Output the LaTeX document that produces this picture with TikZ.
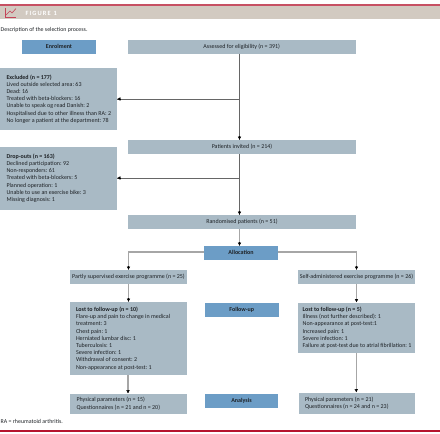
\documentclass[tikz,border=0pt]{standalone}
\usepackage{fontspec}
\setmainfont{Carlito}
\usetikzlibrary{arrows.meta,calc}
\definecolor{boxgrey}{HTML}{A9BAC5}
\definecolor{boxblue}{HTML}{6C9DC6}
\definecolor{bandtan}{HTML}{D2CAC1}
\definecolor{darkred}{HTML}{B5152F}
\definecolor{ink}{HTML}{1E2226}
\tikzset{
 x=1pt,y=-1pt,
 txt/.style={font=\fontsize{6}{7.2}\selectfont\frenchspacing,text=ink},
 greybox/.style={fill=boxgrey,draw=none,inner sep=0pt,txt,align=center},
 bluebox/.style={fill=boxblue,draw=none,inner sep=0pt,font=\fontsize{6}{7.2}\selectfont\bfseries,text=ink,align=center},
 blocktext/.style={anchor=west,inner sep=0pt,txt,align=left},
 thinline/.style={draw=black!60,line width=0.7pt},
 thickline/.style={draw=black!35,line width=1.5pt},
 tipmark/.style={draw=black,line width=0.3pt,-{Latex[length=3.2pt,width=3.6pt]}},
}
% name, x1, y1, x2, y2, style, text
\newcommand{\boxat}[7]{%
 \pgfmathsetmacro{\bw}{#4-#2}\pgfmathsetmacro{\bh}{#5-#3}%
 \pgfmathsetmacro{\bcx}{(#2+#4)/2}\pgfmathsetmacro{\bcy}{(#3+#5)/2}%
 \node[#6,minimum width=\bw pt,minimum height=\bh pt] (#1) at (\bcx,\bcy) {#7};}
% box name, left pad, text: left-aligned block inside a box
\newcommand{\blockin}[3]{\node[blocktext] (#1-text) at ([xshift=#2pt]#1.west) {#3};}
% black tips, drawn apart from the grey lines that end at them
\newcommand{\tipdown}[1]{\draw[tipmark] ([yshift=3.4pt]#1) -- (#1);}
\newcommand{\tipleft}[1]{\draw[tipmark] ([xshift=3.4pt]#1) -- (#1);}
\begin{document}
\begin{tikzpicture}
\useasboundingbox (0,0) rectangle (440,434);
\fill[bandtan] (0,6.2) rectangle (440,19);
\fill[darkred!75] (0,4) rectangle (440,5.5);
\fill[darkred] (0,429.5) rectangle (440,431.5);
% icon
\draw[darkred!80,line width=0.6pt] (5.5,8) -- (5.5,17.5) -- (16,17.5);
\draw[darkred!80,line width=0.6pt] (6,15) -- (10,11) -- (12,13) -- (16,8.5);
\node[anchor=west,inner sep=0pt,font=\fontsize{6.4}{7}\selectfont\bfseries,text=white] (fig) at (25.5,13) {F\,I\,G\,U\,R\,E\ \ 1};
\node[anchor=west,inner sep=0pt,txt,font=\fontsize{5.9}{7}\selectfont] (desc) at (0.5,29.5) {Description of the selection process.};
\node[anchor=west,inner sep=0pt,txt,font=\fontsize{5.9}{7}\selectfont] (ra) at (0.5,421.5) {RA = rheumatoid arthritis.};

\boxat{enrol}{22}{39.5}{96}{53.5}{bluebox}{Enrolment}
\boxat{alloc}{204}{246}{278}{259.5}{bluebox}{Allocation}
\boxat{follow}{205}{302.5}{278.5}{317}{bluebox}{Follow-up}
\boxat{analysis}{205}{393.5}{278}{407.5}{bluebox}{Analysis}

\boxat{assess}{128}{40}{355.5}{53.5}{greybox}{Assessed for eligibility (n = 391)}
\boxat{invited}{128}{140}{356}{154}{greybox}{Patients invited (n = 214)}
\boxat{random}{128}{215}{356}{229}{greybox}{Randomised patients (n = 51)}

\boxat{excl}{0}{68}{117}{130}{greybox}{}
\blockin{excl}{6.5}{\textbf{Excluded (n = 177)}\\Lived outside selected area: 63\\Dead: 16\\Treated with beta-blockers: 16\\Unable to speak og read Danish: 2\\Hospitalised due to other illness than RA: 2\\No longer a patient at the department: 78}
\boxat{drop}{0}{147}{117}{209.5}{greybox}{}
\blockin{drop}{6.5}{\textbf{Drop-outs (n = 163)}\\Declined participation: 92\\Non-responders: 61\\Treated with beta-blockers: 5\\Planned operation: 1\\Unable to use an exercise bike: 3\\Missing diagnosis: 1}

\boxat{partly}{70}{270}{187}{284}{greybox}{Partly supervised exercise programme (n = 25)}
\boxat{self}{298}{270}{415}{284}{greybox}{Self-administered exercise programme (n = 26)}
\boxat{lostl}{69.5}{302}{186.5}{375}{greybox}{}
\blockin{lostl}{6.5}{\textbf{Lost to follow-up (n = 10)}\\Flare-up and pain to change in medical\\treatment: 3\\Chest pain: 1\\Herniated lumbar disc: 1\\Tuberculosis: 1\\Severe infection: 1\\Withdrawal of consent: 2\\Non-appearance at post-test: 1}
\boxat{lostr}{298}{302.5}{414.5}{353}{greybox}{}
\blockin{lostr}{4.7}{\textbf{Lost to follow-up (n = 5)}\\Illness (not further described): 1\\Non-appearance at post-test:1\\Increased pain: 1\\Severe infection: 1\\Failure at post-test due to atrial fibrillation: 1}
\boxat{physl}{70}{393.5}{187}{414}{greybox}{}
\blockin{physl}{6.5}{Physical parameters (n = 15)\\Questionnaires (n = 21 and n = 20)}
\boxat{physr}{298.5}{392.5}{415}{414}{greybox}{}
\blockin{physr}{6.5}{Physical parameters (n = 21)\\Questionnaires (n = 24 and n = 23)}

\coordinate (spine) at (239.5,0);
\coordinate (jexcl) at (239.5,99);
\coordinate (jdrop) at (239.5,178);
\coordinate (tinvited) at (invited.north -| spine);
\coordinate (trandom) at (random.north -| spine);
\coordinate (talloc) at (alloc.north -| spine);
\coordinate (texcl) at (jexcl -| excl.east);
\coordinate (tdrop) at (jdrop -| drop.east);
\coordinate (tlostl) at (partly.south |- lostl.north);
\coordinate (tlostr) at (self.south |- lostr.north);
\coordinate (tphysl) at (lostl.south |- physl.north);
\coordinate (tphysr) at (lostr.south |- physr.north);
\draw[thinline] (assess.south -| spine) -- (tinvited);
\draw[thinline] (jexcl) -- (texcl);
\draw[thinline] (invited.south -| spine) -- (trandom);
\draw[thinline] (jdrop) -- (tdrop);
\draw[thickline] (random.south -| spine) -- (talloc);
\draw[thickline] ([yshift=1pt]alloc.west) -| (partly.north);
\draw[thickline] ([yshift=1pt]alloc.east) -| (self.north);
\draw[thickline] (partly.south) -- (tlostl);
\draw[thickline] (self.south) -- (tlostr);
\draw[thickline] (lostl.south) -- (tphysl);
\draw[thickline] (lostr.south) -- (tphysr);
\tipdown{tinvited}\tipdown{trandom}\tipdown{talloc}
\tipleft{texcl}\tipleft{tdrop}
\tipdown{partly.north}\tipdown{self.north}
\tipdown{tlostl}\tipdown{tlostr}\tipdown{tphysl}\tipdown{tphysr}
\end{tikzpicture}
\end{document}
